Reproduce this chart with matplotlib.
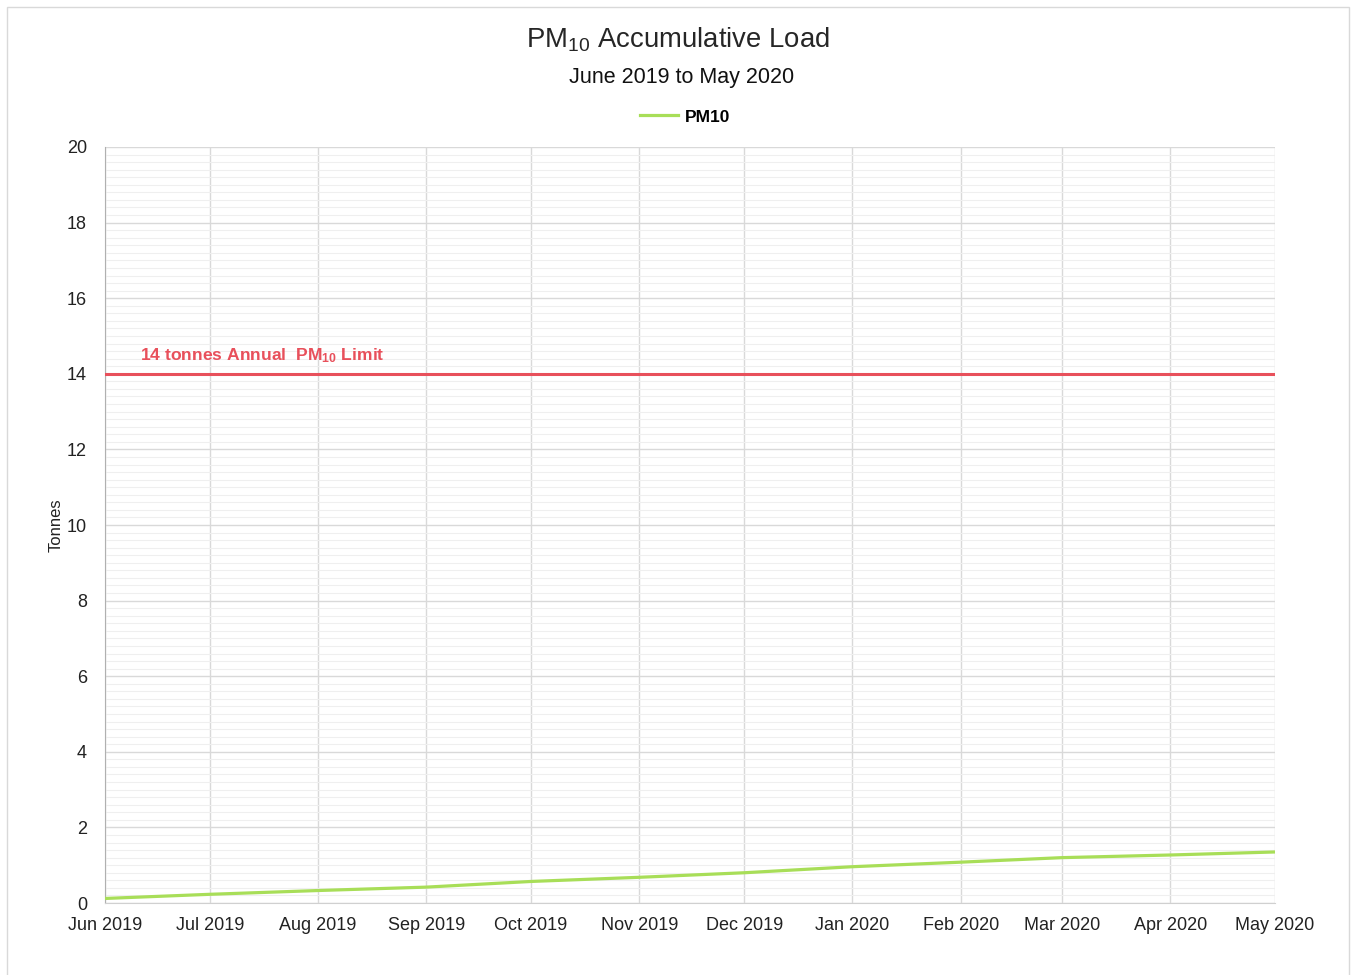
import matplotlib
matplotlib.use("Agg")
import matplotlib.pyplot as plt
from matplotlib.patches import Rectangle
from matplotlib.ticker import MultipleLocator
import datetime as dt

plt.rcParams['font.family'] = ['Liberation Sans', 'DejaVu Sans']
plt.rcParams['mathtext.fontset'] = 'custom'
plt.rcParams['mathtext.rm'] = 'Liberation Sans'
plt.rcParams['mathtext.it'] = 'Liberation Sans'
plt.rcParams['mathtext.bf'] = 'Liberation Sans:bold'

# Data
months = ["2019-06", "2019-07", "2019-08", "2019-09", "2019-10", "2019-11",
          "2019-12", "2020-01", "2020-02", "2020-03", "2020-04", "2020-05"]
month_labels = ["Jun 2019", "Jul 2019", "Aug 2019", "Sep 2019", "Oct 2019", "Nov 2019",
                "Dec 2019", "Jan 2020", "Feb 2020", "Mar 2020", "Apr 2020", "May 2020"]
pm10 = [0.12, 0.23, 0.33, 0.42, 0.57, 0.68, 0.80, 0.96, 1.08, 1.20, 1.27, 1.35]
limit = 14

dates = [dt.datetime.strptime(m, "%Y-%m") for m in months]

W, H = 1351, 975
fig = plt.figure(figsize=(W / 100, H / 100), dpi=100)
fig.patch.set_facecolor("white")
fig.patches.append(Rectangle((7 / W, -0.01), (1349 - 7) / W, (H - 7) / H + 0.01,
                             transform=fig.transFigure, fill=False,
                             edgecolor="#d9d9d9", linewidth=1.0))

ax = fig.add_axes([105 / W, (H - 903) / H, (1275 - 105) / W, (903 - 147) / H])

ax.plot(dates, pm10, color="#a8de58", linewidth=2.3, label="PM10", zorder=4)
ax.axhline(limit, color="#e8505b", linewidth=2.2, zorder=3)
ax.text(dates[0] + dt.timedelta(days=10), limit + 0.22,
        r"14 tonnes Annual  PM$_{\mathbf{10}}$ Limit", color="#e8505b",
        fontsize=12.6, fontweight="bold", ha="left", va="bottom")

ax.set_xlim(dates[0], dates[-1])
ax.set_ylim(0, 20)
ax.set_xticks(dates)
ax.set_xticklabels(month_labels)
ax.yaxis.set_major_locator(MultipleLocator(2))
ax.yaxis.set_minor_locator(MultipleLocator(0.2))

ax.grid(which="major", axis="both", color="#d9d9d9", linewidth=1.0, zorder=0)
ax.grid(which="minor", axis="y", color="#efefef", linewidth=0.8, zorder=0)
ax.set_axisbelow(True)

for s in ["top", "right"]:
    ax.spines[s].set_visible(False)
ax.spines["left"].set_color("#b0b0b0")
ax.spines["bottom"].set_color("#d0d0d0")

ax.tick_params(axis="both", which="both", length=0, labelsize=13, colors="#222222")
ax.tick_params(axis="x", pad=10)
ax.tick_params(axis="y", pad=13)

ax.set_ylabel("Tonnes", fontsize=12, color="#222222", labelpad=2)

fig.text(678 / W, 1 - 40 / H, r"PM$_{10}$ Accumulative Load", fontsize=19.8,
         ha="center", va="center", color="#262626")
fig.text(682 / W, 1 - 77 / H, "June 2019 to May 2020", fontsize=15.5,
         ha="center", va="center", color="#111111")

leg = ax.legend(loc="center", bbox_to_anchor=((685 - 105) / (1275 - 105), 1 + (147 - 117) / (903 - 147)),
                frameon=False, handlelength=2.2, handletextpad=0.35,
                prop={"weight": "bold", "size": 12.5})

fig.savefig("out.png", dpi=100, facecolor="white")
